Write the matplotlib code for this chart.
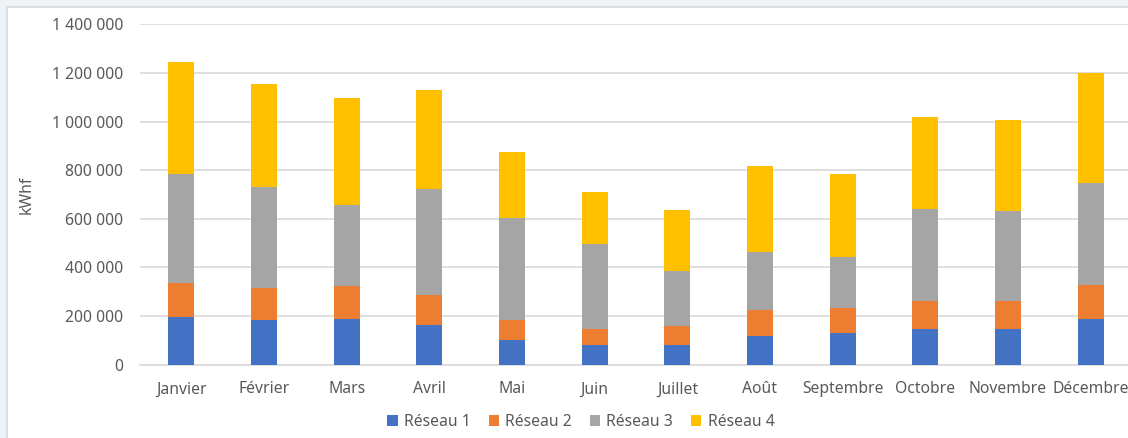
import matplotlib
matplotlib.use("Agg")
import matplotlib.pyplot as plt
from matplotlib.patches import Rectangle
from matplotlib.ticker import FuncFormatter

months = ["Janvier", "Février", "Mars", "Avril", "Mai", "Juin", "Juillet",
          "Août", "Septembre", "Octobre", "Novembre", "Décembre"]
series_names = ["Réseau 1", "Réseau 2", "Réseau 3", "Réseau 4"]
reseau1 = [197000, 185000, 188000, 164000, 103000, 82000, 79000, 118000, 129000, 147000, 147000, 190000]
reseau2 = [140000, 130000, 134000, 124000, 82000, 65000, 79000, 105000, 103000, 113000, 113000, 137000]
reseau3 = [448000, 414000, 334000, 433000, 418000, 350000, 226000, 240000, 209000, 380000, 373000, 422000]
reseau4 = [459000, 424000, 441000, 408000, 270000, 214000, 252000, 354000, 343000, 378000, 374000, 450000]
colors = ["#4472C4", "#ED7D31", "#A5A5A5", "#FFC000"]

plt.rcParams['font.family'] = ['Noto Sans', 'DejaVu Sans']
text_color = "#595959"
fs = 11.3

fig = plt.figure(figsize=(11.28, 4.38), dpi=100)
fig.patch.set_facecolor("#EEF3F8")
# white chart panel
panel = Rectangle((7 / 1128, -0.01), 1.0, 1.01 - 7 / 438, transform=fig.transFigure,
                  facecolor="white", edgecolor="#D9D9D9", linewidth=1.2, zorder=-5)
fig.add_artist(panel)

ax = fig.add_axes([140 / 1128, 1 - 364.7 / 438, 992 / 1128, (364.7 - 24.3) / 438])
ax.set_facecolor("none")
ax.set_zorder(1)

x = list(range(len(months)))
bottom = [0] * len(months)
for name, vals, c in zip(series_names, [reseau1, reseau2, reseau3, reseau4], colors):
    ax.bar(x, vals, width=0.315, bottom=bottom, color=c, label=name, zorder=3)
    bottom = [b + v for b, v in zip(bottom, vals)]

ax.set_xlim(-0.5, 11.5)
ax.set_ylim(0, 1400000)
ax.set_yticks(range(0, 1400001, 200000))
ax.yaxis.set_major_formatter(FuncFormatter(lambda v, p: f"{int(v):,}".replace(",", " ")))
ax.grid(axis="y", color="#D9D9D9", linewidth=1.2, zorder=0)
ax.set_axisbelow(True)
for s in ["top", "right", "left"]:
    ax.spines[s].set_visible(False)
ax.spines["bottom"].set_color("#D9D9D9")
ax.spines["bottom"].set_linewidth(1.2)
ax.tick_params(axis="both", length=0, colors=text_color, labelsize=fs)
ax.tick_params(axis="y", pad=12)
ax.tick_params(axis="x", pad=12)
ax.set_xticks(x)
ax.set_xticklabels(months)
ax.set_ylabel("kWhf", color=text_color, fontsize=fs)
ax.yaxis.set_label_coords((35 - 140) / 992, 0.5)

leg = ax.legend(loc="center", bbox_to_anchor=(581 / 1128, 1 - 422 / 438),
                bbox_transform=fig.transFigure, ncol=4, frameon=False,
                fontsize=fs, handlelength=0.65, handleheight=0.65,
                handletextpad=0.4, columnspacing=1.15)
for t in leg.get_texts():
    t.set_color(text_color)

fig.savefig("out.png", dpi=100, facecolor=fig.get_facecolor())
